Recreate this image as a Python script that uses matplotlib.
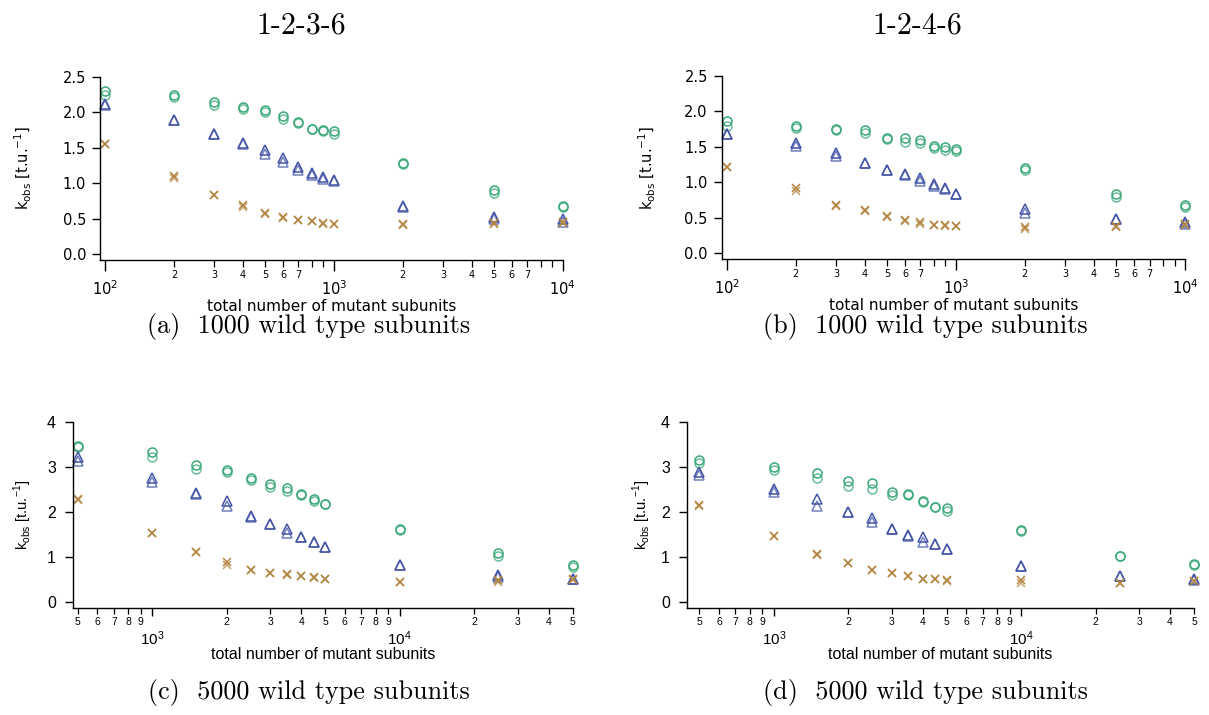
import matplotlib
matplotlib.use("Agg")
import matplotlib.pyplot as plt

# -----------------------------
# DATA
# -----------------------------
# x positions (total number of mutant subunits)
x_top = [100, 200, 300, 400, 500, 600, 700, 800, 900, 1000, 2000, 5000, 10000]
x_bot = [500, 1000, 1500, 2000, 2500, 3000, 3500, 4000, 4500, 5000, 10000, 25000, 50000]

# (a) 1-2-3-6, 1000 wild type subunits (two runs each)
a_green_1 = [2.30, 2.24, 2.15, 2.08, 2.03, 1.95, 1.86, 1.77, 1.75, 1.73, 1.29, 0.90, 0.68]
a_green_2 = [2.24, 2.22, 2.10, 2.04, 2.01, 1.91, 1.85, 1.77, 1.74, 1.69, 1.27, 0.87, 0.67]
a_blue_1 = [2.12, 1.89, 1.69, 1.57, 1.47, 1.35, 1.23, 1.14, 1.09, 1.04, 0.68, 0.52, 0.50]
a_blue_2 = [2.10, 1.89, 1.69, 1.55, 1.41, 1.30, 1.19, 1.12, 1.06, 1.03, 0.67, 0.50, 0.46]
a_brown_1 = [1.55, 1.10, 0.84, 0.69, 0.58, 0.52, 0.49, 0.47, 0.44, 0.43, 0.42, 0.44, 0.45]
a_brown_2 = [1.55, 1.08, 0.84, 0.67, 0.57, 0.51, 0.48, 0.47, 0.43, 0.43, 0.41, 0.42, 0.44]

# (b) 1-2-4-6, 1000 wild type subunits
b_green_1 = [1.86, 1.80, 1.75, 1.74, 1.62, 1.62, 1.60, 1.52, 1.50, 1.47, 1.21, 0.84, 0.68]
b_green_2 = [1.80, 1.76, 1.74, 1.70, 1.61, 1.57, 1.56, 1.48, 1.46, 1.44, 1.17, 0.79, 0.65]
b_blue_1 = [1.68, 1.55, 1.42, 1.28, 1.18, 1.12, 1.06, 0.98, 0.92, 0.84, 0.62, 0.49, 0.44]
b_blue_2 = [1.68, 1.51, 1.37, 1.27, 1.17, 1.11, 1.02, 0.95, 0.91, 0.83, 0.57, 0.48, 0.42]
b_brown_1 = [1.22, 0.92, 0.68, 0.61, 0.52, 0.47, 0.44, 0.40, 0.40, 0.39, 0.37, 0.38, 0.42]
b_brown_2 = [1.22, 0.88, 0.67, 0.60, 0.51, 0.46, 0.42, 0.40, 0.39, 0.39, 0.35, 0.37, 0.40]

# (c) 1-2-3-6, 5000 wild type subunits
c_green_1 = [3.45, 3.33, 3.04, 2.93, 2.74, 2.62, 2.54, 2.40, 2.28, 2.17, 1.62, 1.08, 0.82]
c_green_2 = [3.43, 3.22, 2.96, 2.89, 2.71, 2.56, 2.47, 2.37, 2.23, 2.17, 1.59, 1.02, 0.77]
c_blue_1 = [3.22, 2.74, 2.41, 2.25, 1.91, 1.74, 1.63, 1.45, 1.34, 1.21, 0.82, 0.60, 0.52]
c_blue_2 = [3.13, 2.67, 2.39, 2.13, 1.88, 1.74, 1.52, 1.44, 1.34, 1.21, 0.81, 0.55, 0.50]
c_brown_1 = [2.28, 1.53, 1.10, 0.88, 0.71, 0.64, 0.62, 0.58, 0.55, 0.52, 0.45, 0.48, 0.50]
c_brown_2 = [2.26, 1.52, 1.10, 0.82, 0.71, 0.64, 0.60, 0.57, 0.54, 0.52, 0.45, 0.45, 0.49]

# (d) 1-2-4-6, 5000 wild type subunits
d_green_1 = [3.15, 3.00, 2.87, 2.69, 2.63, 2.45, 2.39, 2.24, 2.11, 2.08, 1.60, 1.02, 0.84]
d_green_2 = [3.09, 2.93, 2.74, 2.57, 2.50, 2.37, 2.38, 2.22, 2.10, 2.02, 1.58, 1.01, 0.83]
d_blue_1 = [2.89, 2.50, 2.28, 2.00, 1.86, 1.63, 1.49, 1.45, 1.29, 1.18, 0.80, 0.58, 0.51]
d_blue_2 = [2.82, 2.45, 2.13, 2.00, 1.78, 1.62, 1.46, 1.32, 1.29, 1.17, 0.79, 0.57, 0.49]
d_brown_1 = [2.15, 1.46, 1.07, 0.86, 0.72, 0.65, 0.58, 0.52, 0.50, 0.48, 0.48, 0.43, 0.47]
d_brown_2 = [2.13, 1.46, 1.04, 0.86, 0.72, 0.65, 0.58, 0.52, 0.50, 0.47, 0.43, 0.43, 0.46]

col_titles = ["1-2-3-6", "1-2-4-6"]
captions = ["(a)  1000 wild type subunits", "(b)  1000 wild type subunits",
            "(c)  5000 wild type subunits", "(d)  5000 wild type subunits"]

GREEN = "#3aa877"
BLUE = "#4455a6"
BROWN = "#b3843f"

serif = ["cmr10", "DejaVu Serif"]
plt.rcParams["axes.unicode_minus"] = False

fig = plt.figure(figsize=(12.09, 7.15), dpi=100)

W, H = 1209.0, 715.0


def make_axes(left, right, top, bottom):
    # pixel box -> figure fraction
    return fig.add_axes([left / W, (H - bottom) / H, (right - left) / W, (bottom - top) / H])


def draw_points(ax, x, g1, g2, b1, b2, r1, r2):
    kw = dict(linestyle="none", clip_on=False, markeredgewidth=1.1)
    ax.plot(x, g2, marker="o", markersize=6.5, mfc="none", mec=GREEN, alpha=0.75, **kw)
    ax.plot(x, g1, marker="o", markersize=6.5, mfc="none", mec=GREEN, **kw)
    ax.plot(x, b2, marker="^", markersize=7, mfc="none", mec=BLUE, alpha=0.75, **kw)
    ax.plot(x, b1, marker="^", markersize=7, mfc="none", mec=BLUE, **kw)
    ax.plot(x, r2, marker="x", markersize=6, mec=BROWN, alpha=0.75, **kw)
    ax.plot(x, r1, marker="x", markersize=6, mec=BROWN, **kw)


def style_axes(ax, font, ysize, majsize):
    ax.spines["top"].set_visible(False)
    ax.spines["right"].set_visible(False)
    ax.spines["left"].set_linewidth(1.0)
    ax.spines["bottom"].set_linewidth(1.0)
    ax.tick_params(axis="y", direction="out", length=6, width=1.0, labelsize=ysize, pad=4)
    ax.tick_params(axis="x", which="major", direction="out", length=8, width=1.0,
                   labelsize=majsize, pad=9)
    ax.tick_params(axis="x", which="minor", direction="out", length=5, width=0.9, pad=2)
    for lab in ax.get_xticklabels(which="both") + ax.get_yticklabels():
        lab.set_family(font)


# -----------------------------
# TOP ROW (1000 wild type)
# -----------------------------
top_major = [100, 1000, 10000]
top_major_lab = [r"$\mathregular{10^{2}}$", r"$\mathregular{10^{3}}$", r"$\mathregular{10^{4}}$"]
top_minor = [m * d for d in (100, 1000) for m in range(2, 10)]
top_minor_lab = [str(m) if m <= 7 else "" for d in (100, 1000) for m in range(2, 10)]

top_font = "DejaVu Sans"
ax_a = make_axes(100, 562.7, 76.7, 260)
ax_b = make_axes(721.7, 1185, 76, 259)

for ax, data, ylab_x in [
    (ax_a, (a_green_1, a_green_2, a_blue_1, a_blue_2, a_brown_1, a_brown_2), -0.143),
    (ax_b, (b_green_1, b_green_2, b_blue_1, b_blue_2, b_brown_1, b_brown_2), -0.137),
]:
    draw_points(ax, x_top, *data)
    ax.set_xscale("log")
    ax.set_xlim(95.1, 10000)
    ax.set_ylim(-0.08, 2.5)
    ax.set_xticks(top_major, top_major_lab)
    ax.set_xticks(top_minor, top_minor_lab, minor=True)
    ax.set_yticks([0, 0.5, 1.0, 1.5, 2.0, 2.5], ["0.0", "0.5", "1.0", "1.5", "2.0", "2.5"])
    style_axes(ax, top_font, 10.5, 10.5)
    ax.tick_params(axis="x", which="major", pad=6)
    ax.set_ylabel(r"k$_{\mathregular{obs}}$ [t.u.$^{\mathregular{-1}}$]",
                  family=top_font, fontsize=10.5)
    ax.yaxis.set_label_coords(ylab_x, 0.5)
    ax.set_xlabel("total number of mutant subunits", family=top_font, fontsize=11, va="center")
    ax.xaxis.set_label_coords(0.5, -0.255)
    for lab in ax.get_xticklabels(minor=True):
        lab.set_fontsize(7)

# -----------------------------
# BOTTOM ROW (5000 wild type)
# -----------------------------
bot_major = [1000, 10000]
bot_major_lab = [r"$\mathregular{10^{3}}$", r"$\mathregular{10^{4}}$"]
bot_minor = [500, 600, 700, 800, 900] + [m * 1000 for m in range(2, 10)] + [20000, 30000, 40000, 50000]
bot_minor_lab = ["5", "6", "7", "8", "9"] + [str(m) for m in range(2, 10)] + ["2", "3", "4", "5"]

bot_font = "Liberation Sans"
ax_c = make_axes(72.7, 572.7, 421.7, 608.3)
ax_d = make_axes(686.7, 1194, 421.7, 608.3)

for ax, data, xmin, ylab_x in [
    (ax_c, (c_green_1, c_green_2, c_blue_1, c_blue_2, c_brown_1, c_brown_2), 477, -0.077),
    (ax_d, (d_green_1, d_green_2, d_blue_1, d_blue_2, d_brown_1, d_brown_2), 444.6, -0.066),
]:
    draw_points(ax, x_bot, *data)
    ax.set_xscale("log")
    ax.set_xlim(xmin, 50000)
    ax.set_ylim(-0.14, 4)
    ax.set_xticks(bot_major, bot_major_lab)
    ax.set_xticks(bot_minor, bot_minor_lab, minor=True)
    ax.set_yticks([0, 1, 2, 3, 4])
    style_axes(ax, bot_font, 11.5, 11)
    ax.tick_params(axis="y", pad=6)
    ax.tick_params(axis="x", which="major", length=6, pad=9)
    ax.tick_params(axis="x", which="minor", length=4, pad=2)
    ax.set_ylabel(r"k$_{\mathregular{obs}}$ [t.u.$^{\mathregular{-1}}$]",
                  family=bot_font, fontsize=10.5)
    ax.yaxis.set_label_coords(ylab_x, 0.5)
    ax.set_xlabel("total number of mutant subunits", family=bot_font, fontsize=11.5, va="center")
    ax.xaxis.set_label_coords(0.5, -0.25)
    for lab in ax.get_xticklabels(minor=True):
        lab.set_fontsize(7.5)

# -----------------------------
# TITLES / CAPTIONS
# -----------------------------
fig.text(301 / W, 1 - 26 / H, col_titles[0], family=serif, fontsize=21.5, ha="center", va="center")
fig.text(917 / W, 1 - 26 / H, col_titles[1], family=serif, fontsize=21.5, ha="center", va="center")
fig.text(309 / W, 1 - 326 / H, captions[0], family=serif, fontsize=18.8, ha="center", va="center")
fig.text(925 / W, 1 - 326 / H, captions[1], family=serif, fontsize=18.8, ha="center", va="center")
fig.text(309 / W, 1 - 692 / H, captions[2], family=serif, fontsize=18.8, ha="center", va="center")
fig.text(925 / W, 1 - 692 / H, captions[3], family=serif, fontsize=18.8, ha="center", va="center")

fig.savefig("out.png", dpi=100)
